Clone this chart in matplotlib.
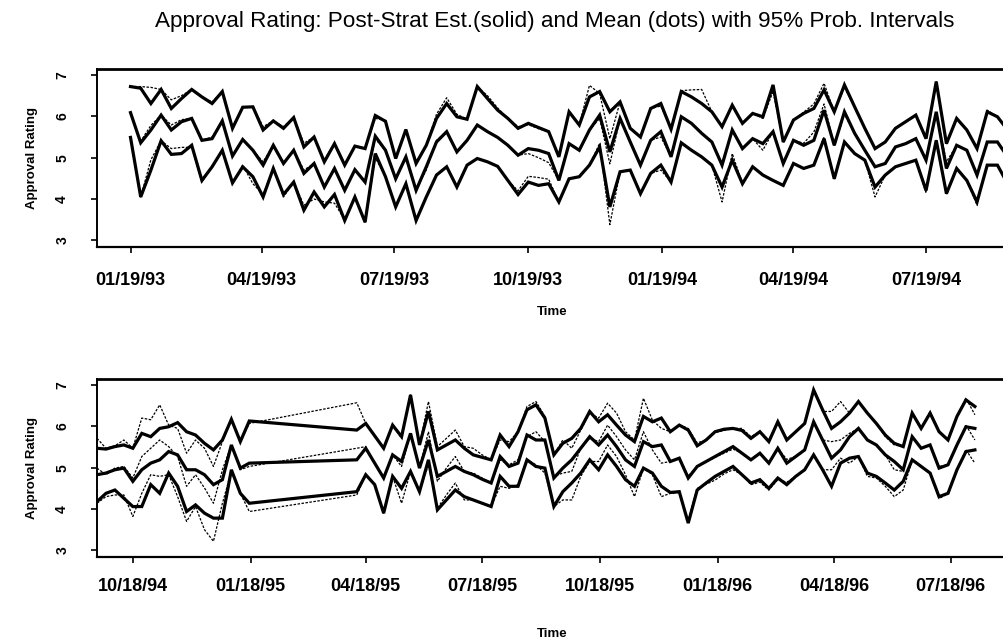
import matplotlib
matplotlib.use("Agg")
import matplotlib.pyplot as plt
import matplotlib.dates as mdates
import pandas as pd
import numpy as np

plt.rcParams['font.family'] = ['Liberation Sans', 'DejaVu Sans']

TITLE = "Approval Rating: Post-Strat Est.(solid) and Mean (dots) with 95% Prob. Intervals"

# ---------------- top panel (weekly from 01/19/93) ----------------
top_start = "1993-01-19"
top_weeks = 87
top_upper = [6.72, 6.68, 6.31, 6.65, 6.19, 6.43, 6.65, 6.47, 6.31, 6.60, 5.71, 6.22, 6.23, 5.67, 5.89, 5.71, 5.97, 5.26, 5.50, 4.90,
             5.34, 4.82, 5.28, 5.22, 6.02, 5.88, 4.98, 5.68, 4.86, 5.30, 5.95, 6.31, 5.99, 5.93, 6.72, 6.43, 6.15, 5.95, 5.71, 5.83,
             5.73, 5.63, 5.02, 6.11, 5.79, 6.47, 6.60, 6.11, 6.35, 5.71, 5.50, 6.19, 6.31, 5.69, 6.60, 6.47, 6.31, 6.11, 5.75, 6.27,
             5.83, 6.07, 5.99, 6.76, 5.38, 5.91, 6.07, 6.19, 6.64, 6.11, 6.76, 6.23, 5.71, 5.22, 5.38, 5.71, 5.87, 6.03, 5.46, 6.84,
             5.34, 5.95, 5.67, 5.22, 6.11, 5.99, 5.67]
top_mid = [6.09, 5.36, 5.67, 6.03, 5.67, 5.87, 5.95, 5.42, 5.46, 5.89, 5.04, 5.44, 5.18, 4.82, 5.30, 4.86, 5.18, 4.62, 4.86, 4.29,
           4.74, 4.21, 4.71, 4.41, 5.52, 5.18, 4.49, 5.02, 4.21, 4.78, 5.38, 5.63, 5.14, 5.42, 5.79, 5.63, 5.49, 5.30, 5.06, 5.22,
           5.18, 5.10, 4.45, 5.34, 5.18, 5.67, 6.03, 5.14, 5.95, 5.38, 4.82, 5.42, 5.63, 5.02, 5.99, 5.83, 5.59, 5.38, 4.82, 5.67,
           5.22, 5.46, 5.34, 5.63, 4.86, 5.42, 5.30, 5.42, 6.15, 5.30, 6.11, 5.59, 5.18, 4.78, 4.86, 5.26, 5.34, 5.46, 4.94, 6.11,
           4.74, 5.30, 5.18, 4.58, 5.38, 5.38, 5.02]
top_lower = [5.49, 4.05, 4.70, 5.41, 5.08, 5.10, 5.30, 4.45, 4.78, 5.18, 4.39, 4.78, 4.54, 4.05, 4.74, 4.11, 4.41, 3.73, 4.17, 3.81,
             4.11, 3.48, 4.05, 3.44, 5.10, 4.54, 3.81, 4.37, 3.48, 4.05, 4.58, 4.78, 4.29, 4.82, 4.98, 4.90, 4.79, 4.45, 4.11, 4.41,
             4.33, 4.37, 3.93, 4.49, 4.54, 4.82, 5.26, 3.81, 4.66, 4.70, 4.13, 4.62, 4.82, 4.41, 5.36, 5.18, 5.02, 4.82, 4.29, 4.94,
             4.37, 4.78, 4.58, 4.45, 4.33, 4.86, 4.74, 4.82, 5.46, 4.49, 5.38, 5.10, 4.94, 4.29, 4.58, 4.78, 4.86, 4.94, 4.21, 5.42,
             4.13, 4.74, 4.45, 3.93, 4.82, 4.82, 4.37]
top_upper_dots = [6.72, 6.72, 6.70, 6.65, 6.40, 6.50, 6.65, 6.47, 6.35, 6.60, 5.75, 6.22, 6.23, 5.75, 5.89, 5.75, 5.97, 5.35, 5.50, 4.95,
                  5.34, 4.85, 5.28, 5.22, 5.95, 5.90, 4.98, 5.68, 4.90, 5.30, 6.05, 6.45, 6.05, 5.93, 6.72, 6.50, 6.20, 5.95, 5.75, 5.80,
                  5.70, 5.63, 5.02, 6.11, 5.79, 6.75, 6.55, 5.46, 6.35, 5.71, 5.50, 6.19, 6.25, 5.69, 6.62, 6.64, 6.65, 6.11, 5.75, 6.27,
                  5.83, 6.07, 5.95, 6.60, 5.38, 5.91, 6.10, 6.30, 6.80, 6.11, 6.70, 6.23, 5.71, 5.22, 5.38, 5.71, 5.87, 6.03, 5.50, 6.84,
                  5.34, 5.95, 5.67, 5.22, 6.15, 5.99, 5.67]
top_mid_dots = [6.05, 5.40, 5.78, 6.03, 5.79, 5.92, 5.95, 5.42, 5.50, 5.89, 5.04, 5.44, 5.18, 4.90, 5.30, 4.86, 5.18, 4.70, 4.86, 4.29,
                4.74, 4.25, 4.71, 4.41, 5.45, 5.18, 4.49, 5.02, 4.25, 4.70, 5.42, 5.63, 5.14, 5.42, 5.79, 5.63, 5.49, 5.30, 5.06, 5.10,
                5.00, 4.88, 4.45, 5.34, 5.18, 5.67, 5.95, 4.85, 5.95, 5.38, 4.82, 5.42, 5.50, 5.02, 5.99, 5.83, 5.59, 5.38, 4.86, 5.67,
                5.22, 5.46, 5.18, 5.63, 4.86, 5.42, 5.35, 5.62, 6.30, 5.30, 6.05, 5.59, 5.18, 4.78, 4.86, 5.26, 5.34, 5.46, 4.94, 6.11,
                4.90, 5.30, 5.18, 4.58, 5.38, 5.38, 5.02]
top_lower_dots = [5.49, 4.05, 4.95, 5.41, 5.22, 5.25, 5.25, 4.41, 4.78, 5.18, 4.39, 4.82, 4.37, 4.11, 4.74, 4.05, 4.41, 3.85, 4.00, 3.93,
                  3.90, 3.50, 4.05, 3.44, 5.00, 4.54, 3.81, 4.37, 3.50, 4.05, 4.58, 4.78, 4.29, 4.82, 4.98, 4.90, 4.79, 4.45, 4.20, 4.55,
                  4.52, 4.48, 3.93, 4.49, 4.54, 4.82, 5.35, 3.38, 4.66, 4.70, 4.13, 4.62, 4.70, 4.41, 5.36, 5.18, 5.02, 4.82, 3.93, 5.10,
                  4.37, 4.78, 4.60, 4.45, 4.33, 4.86, 4.74, 4.82, 5.50, 4.49, 5.38, 5.10, 4.94, 4.05, 4.58, 4.78, 4.86, 4.94, 4.15, 5.42,
                  4.13, 4.74, 4.45, 3.85, 4.82, 4.82, 4.37]
top_ticks = ["1993-01-19", "1993-04-19", "1993-07-19", "1993-10-19", "1994-01-19", "1994-04-19", "1994-07-19"]
top_tick_labels = ["01/19/93", "04/19/93", "07/19/93", "10/19/93", "01/19/94", "04/19/94", "07/19/94"]

# ---------------- bottom panel (weekly from 09/20/94, gap Jan-Apr 95) ----------------
bot_start1 = "1994-09-20"
bot_weeks1 = 18
bot_start2 = "1995-04-11"
bot_weeks2 = 70
bot_upper = [5.47, 5.45, 5.51, 5.55, 5.47, 5.83, 5.75, 5.95, 5.99, 6.09, 5.87, 5.79, 5.59, 5.43, 5.67, 6.17, 5.63, 6.13,
             5.91, 6.07, 5.77, 5.47, 6.03, 5.75, 6.76, 5.55, 6.36, 5.43, 5.55, 5.67, 5.47, 5.31, 5.25, 5.19, 5.79, 5.51, 5.87, 6.40,
             6.52, 6.20, 5.31, 5.59, 5.71, 5.95, 6.36, 6.11, 6.28, 6.03, 5.79, 5.63, 6.24, 6.11, 6.20, 5.87, 6.03, 5.91, 5.53, 5.67,
             5.87, 5.93, 5.95, 5.90, 5.71, 5.87, 5.63, 6.11, 5.67, 5.87, 6.07, 6.88, 6.40, 5.95, 6.11, 6.32, 6.60, 6.32, 6.07, 5.79,
             5.59, 5.51, 6.32, 5.95, 6.32, 5.87, 5.67, 6.24, 6.64, 6.48]
bot_mid = [4.83, 4.87, 4.95, 4.99, 4.67, 4.95, 5.11, 5.19, 5.39, 5.31, 4.95, 4.95, 4.83, 4.59, 4.71, 5.55, 4.99, 5.11,
           5.19, 5.47, 5.11, 4.75, 5.31, 5.15, 5.83, 4.99, 5.67, 4.79, 4.91, 5.03, 4.91, 4.83, 4.72, 4.63, 5.27, 5.03, 5.11, 5.79,
           5.67, 5.67, 4.75, 4.99, 5.19, 5.47, 5.75, 5.55, 5.79, 5.51, 5.19, 5.03, 5.63, 5.51, 5.55, 5.15, 5.23, 4.75, 5.03, 5.15,
           5.27, 5.39, 5.51, 5.35, 5.19, 5.35, 5.11, 5.47, 5.11, 5.27, 5.43, 6.11, 5.67, 5.23, 5.43, 5.75, 5.95, 5.67, 5.55, 5.31,
           5.15, 4.95, 5.75, 5.47, 5.55, 4.99, 5.07, 5.55, 5.99, 5.95]
bot_lower = [4.18, 4.38, 4.46, 4.26, 4.06, 4.06, 4.59, 4.38, 4.87, 4.55, 3.94, 4.10, 3.90, 3.78, 3.78, 4.95, 4.38, 4.14,
             4.42, 4.83, 4.59, 3.90, 4.79, 4.50, 4.91, 4.42, 5.19, 3.98, 4.22, 4.46, 4.30, 4.22, 4.14, 4.06, 4.79, 4.55, 4.55, 5.19,
             5.03, 4.99, 4.06, 4.42, 4.63, 4.87, 5.19, 4.95, 5.31, 5.03, 4.71, 4.55, 4.99, 4.87, 4.55, 4.40, 4.42, 3.66, 4.46, 4.63,
             4.79, 4.91, 5.03, 4.83, 4.63, 4.71, 4.50, 4.75, 4.59, 4.79, 4.95, 5.31, 4.95, 4.55, 5.11, 5.23, 5.27, 4.87, 4.79, 4.63,
             4.46, 4.67, 5.19, 5.03, 4.87, 4.30, 4.38, 4.95, 5.39, 5.43]
bot_upper_dots = [5.71, 5.47, 5.53, 5.67, 5.47, 6.20, 6.16, 6.52, 6.03, 5.95, 5.35, 5.67, 5.47, 5.03, 5.63, 6.17, 5.63, 6.07,
                  6.57, 6.07, 5.77, 5.47, 6.03, 5.71, 6.76, 5.55, 6.60, 5.51, 5.71, 5.91, 5.51, 5.47, 5.31, 5.19, 5.67, 5.63, 5.87, 6.48,
                  6.60, 6.24, 5.31, 5.67, 5.47, 5.91, 6.32, 6.20, 6.56, 6.32, 5.87, 5.67, 6.68, 6.15, 5.95, 5.87, 6.03, 5.95, 5.60, 5.67,
                  5.85, 5.90, 5.95, 5.95, 5.75, 5.87, 5.67, 6.11, 5.70, 5.87, 6.07, 6.88, 6.36, 6.36, 6.60, 6.32, 6.60, 6.32, 6.07, 5.75,
                  5.55, 5.51, 6.32, 5.95, 6.36, 5.87, 5.67, 6.24, 6.68, 6.28]
bot_mid_dots = [4.99, 4.83, 4.99, 5.03, 4.75, 5.27, 5.47, 5.67, 5.51, 5.27, 4.55, 4.83, 4.51, 4.14, 4.95, 5.55, 4.95, 5.03,
                5.47, 5.51, 5.11, 4.75, 5.31, 5.03, 5.83, 4.99, 5.87, 4.67, 4.99, 5.27, 4.91, 4.87, 4.75, 4.63, 5.19, 5.07, 5.19, 5.75,
                5.87, 5.63, 4.79, 4.87, 4.91, 5.47, 5.71, 5.63, 6.03, 5.75, 5.43, 5.19, 5.87, 5.43, 5.11, 5.15, 5.23, 4.80, 5.03, 5.15,
                5.25, 5.35, 5.45, 5.35, 5.19, 5.35, 5.11, 5.47, 5.20, 5.27, 5.43, 6.11, 5.67, 5.63, 5.67, 5.83, 5.95, 5.67, 5.55, 5.31,
                4.95, 4.91, 5.75, 5.47, 5.55, 5.03, 5.07, 5.55, 6.03, 5.67]
bot_lower_dots = [4.14, 4.30, 4.34, 4.34, 3.82, 4.38, 4.83, 4.79, 4.83, 4.30, 3.70, 4.06, 3.50, 3.22, 4.14, 4.91, 4.38, 3.94,
                  4.34, 4.83, 4.59, 3.90, 4.79, 4.14, 4.91, 4.42, 5.07, 4.02, 4.34, 4.63, 4.22, 4.22, 4.14, 4.06, 4.55, 4.50, 4.59, 5.19,
                  5.07, 4.87, 4.06, 4.22, 4.22, 4.79, 5.15, 5.15, 5.55, 5.27, 4.83, 4.30, 4.99, 4.83, 4.30, 4.38, 4.40, 3.74, 4.50, 4.60,
                  4.70, 4.85, 4.95, 4.83, 4.59, 4.65, 4.46, 4.71, 4.65, 4.79, 4.95, 5.31, 4.95, 4.95, 5.23, 5.11, 5.27, 4.79, 4.75, 4.55,
                  4.30, 4.46, 5.19, 5.03, 4.87, 4.25, 4.38, 4.95, 5.43, 5.11]
bot_ticks = ["1994-10-18", "1995-01-18", "1995-04-18", "1995-07-18", "1995-10-18", "1996-01-18", "1996-04-18", "1996-07-18"]
bot_tick_labels = ["10/18/94", "01/18/95", "04/18/95", "07/18/95", "10/18/95", "01/18/96", "04/18/96", "07/18/96"]

y_ticks = [3, 4, 5, 6, 7]

top_dates = pd.date_range(top_start, periods=top_weeks, freq="7D")
bot_dates = pd.date_range(bot_start1, periods=bot_weeks1, freq="7D").append(
    pd.date_range(bot_start2, periods=bot_weeks2, freq="7D"))

W, H = 1004, 644
fig = plt.figure(figsize=(W / 100, H / 100), dpi=100)
fig.patch.set_facecolor("white")

def fx(px):
    return px / W

def fy(py):
    return 1 - py / H

ax1 = fig.add_axes([fx(97), fy(247), fx(1012 - 97), (247 - 69) / H])
ax2 = fig.add_axes([fx(97), fy(557), fx(1012 - 97), (557 - 379) / H])

solid_kw = dict(color="black", lw=2.3, solid_joinstyle="miter")
dot_kw = dict(color="black", lw=0.9, linestyle=(0, (2.0, 1.2)))

def draw(ax, dates, series_solid, series_dots, ticks, labels, xlim, label_pad):
    for s in series_dots:
        ax.plot(dates, s, **dot_kw, zorder=3)
    for s in series_solid:
        ax.plot(dates, s, **solid_kw, zorder=2)
    ax.set_xlim(pd.Timestamp(xlim[0]), pd.Timestamp(xlim[1]))
    ax.set_ylim(2.84, 7.145)
    ax.set_xticks([pd.Timestamp(t) for t in ticks])
    ax.set_xticklabels(labels, fontsize=13, fontweight="bold")
    ax.set_yticks(y_ticks)
    ax.set_yticklabels([str(v) for v in y_ticks], fontsize=10, fontweight="bold",
                       rotation=90, va="center")
    ax.tick_params(axis="x", direction="out", length=4, width=1.2, pad=label_pad)
    ax.tick_params(axis="y", direction="out", length=4, width=1.2, pad=16)
    ax.spines["right"].set_visible(False)
    ax.spines["top"].set_linewidth(2.0)
    ax.spines["bottom"].set_linewidth(1.6)
    ax.spines["left"].set_linewidth(1.4)

draw(ax1, top_dates, [top_upper, top_mid, top_lower],
     [top_upper_dots, top_mid_dots, top_lower_dots],
     top_ticks, top_tick_labels, ("1992-12-27", "1994-09-16"), 14)
draw(ax2, bot_dates, [bot_upper, bot_mid, bot_lower],
     [bot_upper_dots, bot_mid_dots, bot_lower_dots],
     bot_ticks, bot_tick_labels, ("1994-09-20", "1996-09-04"), 11)

fig.text(fx(555), fy(27), TITLE, ha="center", va="baseline", fontsize=16.2)
for yc, tc in [(158, 312), (468, 634)]:
    fig.text(fx(32), fy(yc), "Approval Rating", rotation=90, ha="center", va="center",
             fontsize=9.5, fontweight="bold")
    fig.text(fx(552), fy(tc), "Time", ha="center", va="center", fontsize=9.5, fontweight="bold")

fig.savefig("out.png", dpi=100, facecolor="white")
